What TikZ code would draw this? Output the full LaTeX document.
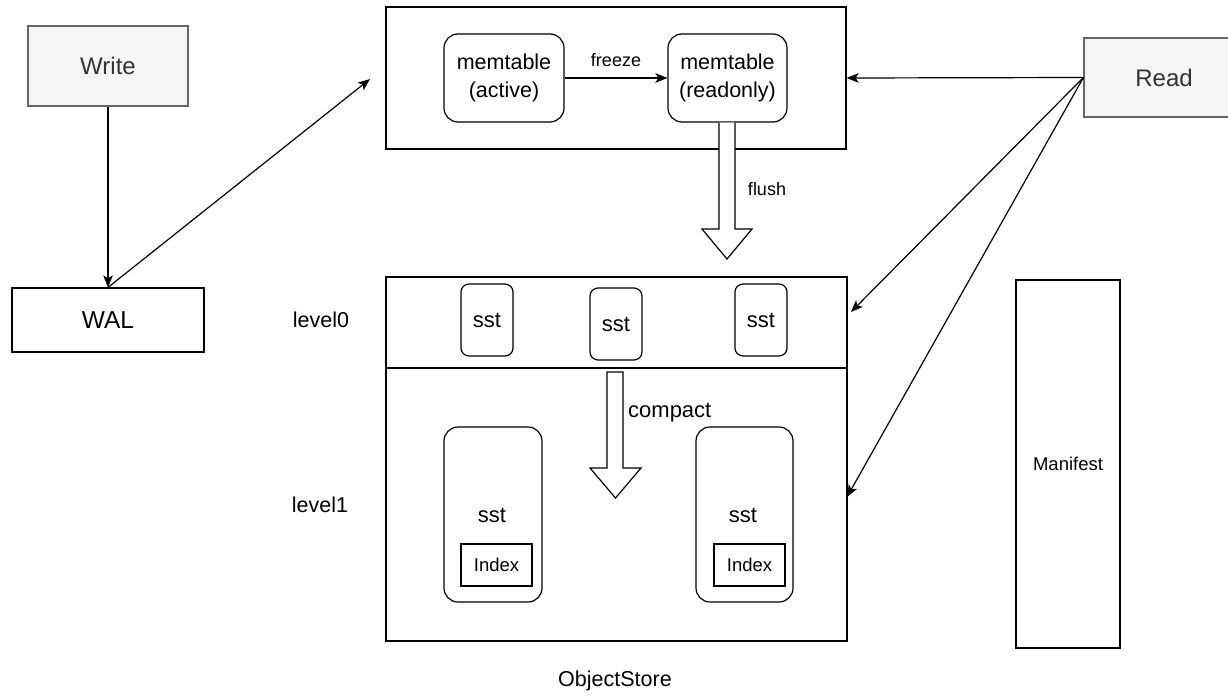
\documentclass[tikz,border=0pt]{standalone}
\usepackage{fontspec}
\setmainfont{Liberation Sans}
\usetikzlibrary{arrows.meta}
\newcommand{\fsz}[1]{\fontsize{#1}{#1}\selectfont}
\definecolor{actorfill}{HTML}{F5F5F5}
\definecolor{actorline}{HTML}{666666}
\definecolor{actortext}{HTML}{333333}
\tikzset{
  box/.style={draw, line width=1.2pt, inner sep=0pt, align=center},
  rbox/.style={box, rounded corners=14pt},
  sbox/.style={box, rounded corners=8pt},
  actor/.style={box, fill=actorfill, draw=actorline, text=actortext, font=\fsz{24}},
  lbl/.style={inner sep=0pt},
  conn/.style={line width=1.2pt, -{Stealth[length=12pt,width=9.5pt,inset=3pt]}},
  block/.style={draw, line width=1.2pt, fill=white, line join=miter},
}
\begin{document}
\begin{tikzpicture}[x=1pt,y=-1pt]
\useasboundingbox (0,0) rectangle (1228,696);

% clients and log
\node[actor, minimum width=160pt, minimum height=80pt] (write) at (108,66) {Write};
\node[actor, minimum width=160pt, minimum height=79pt] (read) at (1164,77.5) {Read};
\node[box, minimum width=192pt, minimum height=64pt, font=\fsz{24.5}] (wal) at (108,320) {WAL};

% memory layer
\node[box, minimum width=460pt, minimum height=142pt] (mem) at (616,78) {};
\node[rbox, minimum width=120pt, minimum height=88pt, font=\fsz{21.5}] (active) at (504,78) {memtable\\[6pt](active)};
\node[rbox, minimum width=119pt, minimum height=88pt, font=\fsz{21.5}] (ro) at (727.5,78) {memtable\\[6pt](readonly)};

% object store
\node[box, minimum width=461pt, minimum height=364pt] (store) at (616.5,459) {};
\draw[line width=1.2pt] (store.west |- 0,368) coordinate (divl) -- (store.east |- 0,368) coordinate (divr);
\node[sbox, minimum width=52pt, minimum height=72pt, font=\fsz{22}] (l0a) at (487,320) {sst};
\node[sbox, minimum width=52pt, minimum height=72pt, font=\fsz{22}] (l0b) at (616,324) {sst};
\node[sbox, minimum width=52pt, minimum height=72pt, font=\fsz{22}] (l0c) at (761,320) {sst};
\node[rbox, minimum width=98pt, minimum height=175pt] (l1a) at (493,514.5) {};
\node[rbox, minimum width=97pt, minimum height=175pt] (l1b) at (744.5,514.5) {};
\node[lbl, font=\fsz{22}] (l1atxt) at (492,515) {sst};
\node[lbl, font=\fsz{22}] (l1btxt) at (743,515) {sst};
\node[box, minimum width=71pt, minimum height=42pt, font=\fsz{18.5}] (ixa) at (496.5,565) {Index};
\node[box, minimum width=71pt, minimum height=42pt, font=\fsz{18.5}] (ixb) at (749.5,565) {Index};

\node[box, minimum width=104pt, minimum height=368pt, font=\fsz{18.5}] (manifest) at (1068,464) {Manifest};

% labels
\node[lbl, font=\fsz{21.5}] (lv0) at (321,320) {level0};
\node[lbl, font=\fsz{21.5}] (lv1) at (320,505) {level1};
\node[lbl, font=\fsz{21.5}] (os) at (615,681) {ObjectStore};

% connectors
\coordinate (walend) at (370,79);
\coordinate (rd0) at (851,312);
\coordinate (rd1) at (847,497);
\draw[conn] (write.south) -- (wal.north);
\draw[conn] (wal.north) -- (walend);
\draw[conn] (active.east) -- node[lbl, above=11pt, font=\fsz{18}] (frz) {freeze} (ro.west);
\draw[conn] (read.west) -- (mem.east);
\draw[conn] (read.west) -- (rd0);
\draw[conn] (read.west) -- (rd1);

% flush and compact block arrows
\draw[block] (ro.south -| 719,0) -- (719,229) -- (702,229) -- (727,259) -- (752,229) -- (735,229) -- (ro.south -| 735,0);
\node[lbl, font=\fsz{18}] (flush) at (767,189) {flush};
\draw[block] (607,372) -- (607,468) -- (590,468) -- (615.5,498) -- (641,468) -- (623,468) -- (623,372) -- cycle;
\node[lbl, font=\fsz{22}, anchor=west] (compact) at (628,413) {compact};
\end{tikzpicture}
\end{document}
